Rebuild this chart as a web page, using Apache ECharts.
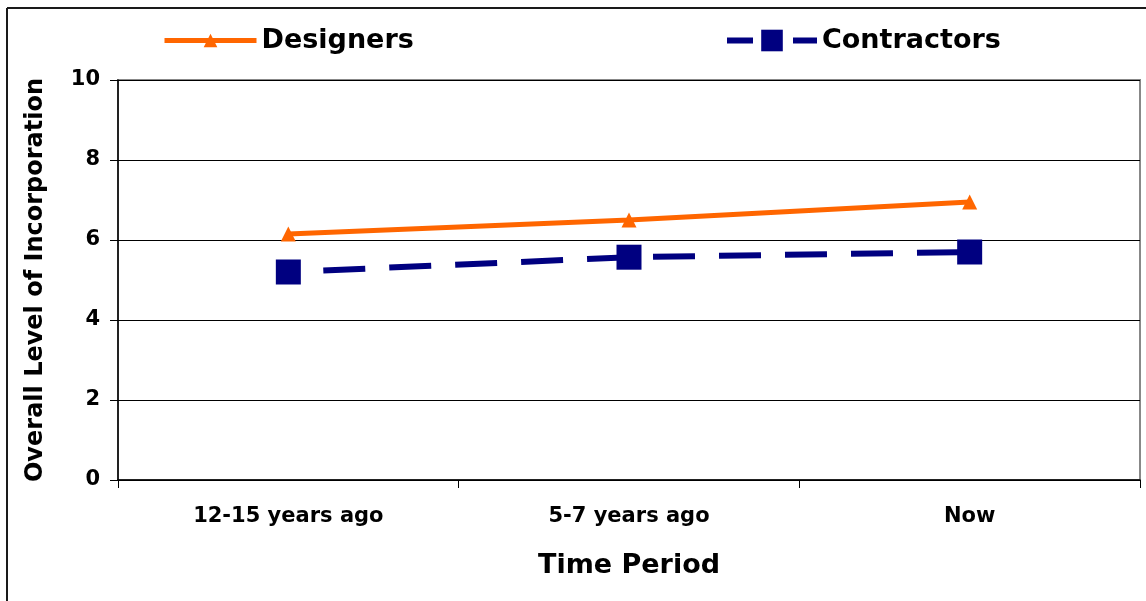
<!DOCTYPE html>
<html>
<head>
<meta charset="utf-8">
<script src="https://cdn.jsdelivr.net/npm/echarts@6/dist/echarts.min.js"></script>
<style>
html,body{margin:0;padding:0;background:#fff;}
#chart{width:1146px;height:601px;}
</style>
</head>
<body>
<div id="chart"></div>
<script>
var categories = ['12-15 years ago', '5-7 years ago', 'Now'];
var designers = [6.15, 6.5, 6.95];
var contractors = [5.2, 5.57, 5.7];
var yTicks = [0, 2, 4, 6, 8, 10];

var FONT = 'DejaVu Sans';
var chart = echarts.init(document.getElementById('chart'), null, {renderer: 'canvas'});
chart.setOption({
  animation: false,
  backgroundColor: '#fff',
  graphic: [{
    type: 'line', z: 100, silent: true,
    shape: {x1: 7, y1: 8, x2: 1146, y2: 8},
    style: {stroke: '#1a1a1a', lineWidth: 2}
  }, {
    type: 'line', z: 100, silent: true,
    shape: {x1: 7, y1: 8, x2: 7, y2: 601},
    style: {stroke: '#1a1a1a', lineWidth: 2}
  }],
  legend: [{
    data: ['Designers'], left: 162, top: 27, padding: 0,
    itemWidth: 92, itemHeight: 17, itemGap: 10,
    lineStyle: {width: 5},
    textStyle: {fontFamily: FONT, fontWeight: 'bold', fontSize: 27, color: '#000'}
  }, {
    data: ['Contractors'], left: 724, top: 27, padding: 0,
    itemWidth: 90, itemHeight: 27, itemGap: 10,
    lineStyle: {width: 6, type: [26, 40], dashOffset: 0},
    textStyle: {fontFamily: FONT, fontWeight: 'bold', fontSize: 27, color: '#000'}
  }],
  grid: {left: 118, right: 6, top: 80, bottom: 121, show: true, borderColor: '#888', borderWidth: 2, backgroundColor: 'transparent'},
  xAxis: {
    type: 'category', data: categories, boundaryGap: true,
    name: 'Time Period', nameLocation: 'middle', nameGap: 72,
    nameTextStyle: {fontFamily: FONT, fontWeight: 'bold', fontSize: 27, color: '#000'},
    axisLine: {lineStyle: {color: '#000', width: 1.5}},
    axisTick: {show: true, length: 8, lineStyle: {color: '#000'}},
    axisLabel: {fontFamily: FONT, fontWeight: 'bold', fontSize: 21, color: '#000', margin: 26},
    splitLine: {show: false}
  },
  yAxis: {
    type: 'value', min: yTicks[0], max: yTicks[yTicks.length-1], interval: 2,
    name: 'Overall Level of Incorporation', nameLocation: 'middle', nameGap: 70,
    nameTextStyle: {fontFamily: FONT, fontWeight: 'bold', fontSize: 24, color: '#000'},
    axisLine: {show: true, lineStyle: {color: '#000', width: 1.5}},
    axisTick: {show: true, length: 8, lineStyle: {color: '#000'}},
    axisLabel: {fontFamily: FONT, fontWeight: 'bold', fontSize: 21, color: '#000', margin: 18},
    splitLine: {show: true, lineStyle: {color: '#000', width: 1}}
  },
  series: [{
    name: 'Contractors', type: 'line', data: contractors,
    symbol: 'rect', symbolSize: 25,
    itemStyle: {color: '#000080'},
    lineStyle: {color: '#000080', width: 6, type: [42, 24], dashOffset: 31, cap: 'butt'},
    z: 3
  }, {
    name: 'Designers', type: 'line', data: designers,
    symbol: 'triangle', symbolSize: [15, 15],
    itemStyle: {color: '#FF6600'},
    lineStyle: {color: '#FF6600', width: 5},
    z: 4
  }]
});
</script>
</body>
</html>
